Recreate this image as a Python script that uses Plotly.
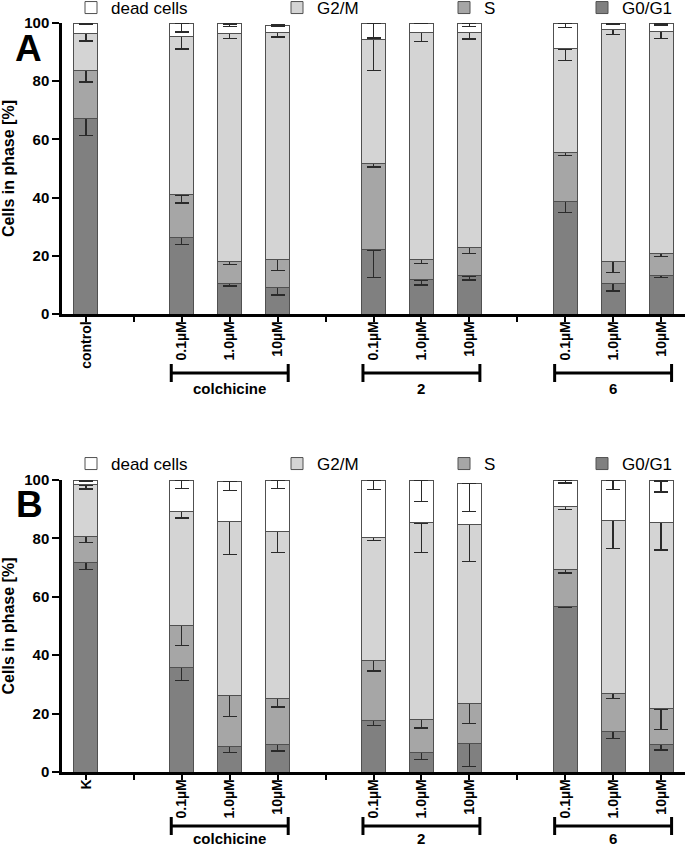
import plotly.graph_objects as go

# ---------------- data ----------------
group_names = ["colchicine", "2", "6"]
dose_labels = ["0.1µM", "1.0µM", "10µM"]
control_label_A = "control"
control_label_B = "K"
phase_names = ["G0/G1", "S", "G2/M", "dead cells"]
phase_colors = ["#808080", "#a6a6a6", "#d4d4d4", "#ffffff"]

# Panel A  (order: control, colchicine 0.1/1.0/10, 2 0.1/1.0/10, 6 0.1/1.0/10)
A_g0g1 = [67.1, 26.3, 10.4, 9.2, 22.0, 11.7, 13.1, 38.6, 10.4, 13.4]
A_s    = [16.5, 14.6, 7.6, 9.5, 29.8, 7.1, 9.7, 17.0, 7.8, 7.5]
A_g2m  = [12.8, 54.5, 78.4, 78.0, 42.7, 77.9, 74.1, 35.5, 79.5, 76.3]
A_dead = [3.6, 4.6, 3.3, 2.6, 5.5, 3.3, 3.1, 8.9, 2.3, 2.8]
A_g0g1_err = [5.7, 2.3, 0.8, 2.7, 9.5, 1.7, 1.4, 3.7, 2.5, 0.9]
A_s_err    = [3.9, 2.8, 0.9, 3.8, 1.3, 1.4, 1.9, 1.1, 4.0, 1.2]
A_g2m_err  = [2.6, 4.3, 1.8, 1.5, 10.8, 3.0, 2.4, 4.1, 1.7, 2.5]
A_dead_err = [0.6, 3.1, 0.8, 0.4, 5.2, 0.2, 1.1, 1.5, 0.6, 0.7]

# Panel B
B_g0g1 = [71.8, 35.7, 8.7, 9.4, 17.6, 6.6, 9.7, 56.6, 13.8, 9.5]
B_s    = [9.0, 14.6, 17.6, 15.7, 20.5, 11.3, 13.7, 12.8, 13.2, 12.1]
B_g2m  = [17.5, 38.8, 59.4, 57.4, 42.2, 67.4, 61.4, 21.6, 59.2, 63.9]
B_dead = [1.7, 10.9, 13.7, 17.5, 19.7, 14.7, 14.1, 9.0, 13.8, 14.2]
B_g0g1_err = [2.4, 4.3, 2.1, 2.2, 1.7, 2.4, 7.8, 0.3, 2.4, 2.0]
B_s_err    = [2.2, 6.9, 7.2, 2.8, 3.5, 2.8, 6.8, 1.2, 1.9, 7.1]
B_g2m_err  = [1.4, 2.1, 11.2, 7.3, 1.1, 10.2, 12.6, 1.1, 9.6, 9.5]
B_dead_err = [0.3, 2.9, 3.1, 2.9, 3.2, 7.4, 9.6, 1.0, 3.2, 3.8]

y_ticks = [0, 20, 40, 60, 80, 100]

# ---------------- layout helpers ----------------
W, H = 685, 847
FONT = "Liberation Sans, Arial, Helvetica, sans-serif"

# slot positions: control, gap, 3 doses, gap, 3 doses, gap, 3 doses
positions = [0]
group_slots = []
slot = 0
for g in group_names:
    slot += 2
    group_slots.append([slot, slot + 1, slot + 2])
    positions += [slot, slot + 1, slot + 2]
    slot += 2
n_slots = positions[-1] + 1


def tick_text(ctrl):
    txt = [""] * n_slots
    txt[0] = ctrl
    for gs in group_slots:
        for s, d in zip(gs, dose_labels):
            txt[s] = d
    return txt


def py(px):  # pixel from top -> paper
    return (H - px) / H


def px_x(px):
    return px / W


fig = go.Figure()

panels = [
    dict(x="x", y="y", vals=[A_g0g1, A_s, A_g2m, A_dead],
         errs=[A_g0g1_err, A_s_err, A_g2m_err, A_dead_err],
         leg=["legend4", "legend3", "legend2", "legend"]),
    dict(x="x2", y="y2", vals=[B_g0g1, B_s, B_g2m, B_dead],
         errs=[B_g0g1_err, B_s_err, B_g2m_err, B_dead_err],
         leg=["legend8", "legend7", "legend6", "legend5"]),
]

for p in panels:
    for name, col, v, e, lg in zip(phase_names, phase_colors, p["vals"], p["errs"], p["leg"]):
        fig.add_trace(go.Bar(
            x=positions, y=v, name=name, xaxis=p["x"], yaxis=p["y"],
            width=0.5, legend=lg,
            marker=dict(color=col, line=dict(color="#505050", width=1)),
            error_y=dict(type="data", symmetric=False, array=[0] * len(e), arrayminus=e,
                         color="#2a2a2a", thickness=1.3, width=7),
        ))

# axes geometry (pixels)
plot_left = 62
A_top, A_bot = 23, 314
B_top, B_bot = 480, 772

axis_common = dict(showline=True, linecolor="black", linewidth=2.5, mirror=False,
                   showgrid=False, zeroline=False, automargin=False)
xcommon = dict(axis_common, range=[-0.5, n_slots - 0.5], domain=[px_x(plot_left), 1],
               tickmode="array", tickvals=list(range(n_slots)), ticks="outside",
               ticklen=5, tickwidth=2, tickcolor="black", tickangle=-90,
               ticklabelstandoff=-6,
               tickfont=dict(family=FONT, size=14, color="black", weight="bold"))
ycommon = dict(axis_common, range=[0, 100], tickmode="array", tickvals=y_ticks,
               ticks="outside", ticklen=7, tickwidth=2, tickcolor="black",
               tickfont=dict(family=FONT, size=15, color="black", weight="bold"),
               title=dict(text="Cells in phase [%]",
                          font=dict(family=FONT, size=16, color="black", weight="bold")))

fig.update_layout(
    xaxis=dict(xcommon, anchor="y", ticktext=tick_text(control_label_A)),
    yaxis=dict(ycommon, anchor="x", domain=[py(A_bot), py(A_top)]),
    xaxis2=dict(xcommon, anchor="y2", ticktext=tick_text(control_label_B)),
    yaxis2=dict(ycommon, anchor="x2", domain=[py(B_bot), py(B_top)]),
    barmode="stack",
    width=W, height=H,
    margin=dict(l=0, r=0, t=0, b=0, autoexpand=False),
    paper_bgcolor="white", plot_bgcolor="white",
    font=dict(family=FONT, color="black"),
    showlegend=True,
)

# legends (one per entry, placed like the reference)
legend_left_px = [73, 279, 446, 584]
legend_keys_A = ["legend", "legend2", "legend3", "legend4"]
legend_keys_B = ["legend5", "legend6", "legend7", "legend8"]
for keys, yc in ((legend_keys_A, 8), (legend_keys_B, 464)):
    for k, xl in zip(keys, legend_left_px):
        fig.update_layout({k: dict(x=px_x(xl - 2), xanchor="left", y=py(yc), yanchor="middle",
                                   xref="container", yref="container",
                                   orientation="h", bgcolor="rgba(0,0,0,0)",
                                   font=dict(family=FONT, size=17, color="black"),
                                   itemclick=False, itemdoubleclick=False)})

# panel letters
for letter, (cx, cy) in (("A", (28, 48)), ("B", (29, 504))):
    fig.add_annotation(text=letter, x=px_x(cx), y=py(cy), xref="paper", yref="paper",
                       showarrow=False, xanchor="center", yanchor="middle",
                       font=dict(family=FONT, size=37, color="black", weight="bold"))

# group brackets and labels
for xref, br_y, lab_y in (("x", 373, 388), ("x2", 826, 838)):
    for g, gs in zip(group_names, group_slots):
        x0, x1 = gs[0] - 0.22, gs[-1] + 0.22
        fig.add_shape(type="line", xref=xref, yref="paper", x0=x0, x1=x1,
                      y0=py(br_y), y1=py(br_y), line=dict(color="black", width=3))
        for xe in (x0, x1):
            fig.add_shape(type="line", xref=xref, yref="paper", x0=xe, x1=xe,
                          y0=py(br_y - 9), y1=py(br_y + 9), line=dict(color="black", width=3))
        fig.add_annotation(text=g, x=gs[1], y=py(lab_y), xref=xref, yref="paper",
                           showarrow=False, xanchor="center", yanchor="middle",
                           font=dict(family=FONT, size=15, color="black", weight="bold"))

fig.write_html("out.html", config={"displayModeBar": False},
               post_script="document.body.style.margin='0';document.body.style.overflow='hidden';")
